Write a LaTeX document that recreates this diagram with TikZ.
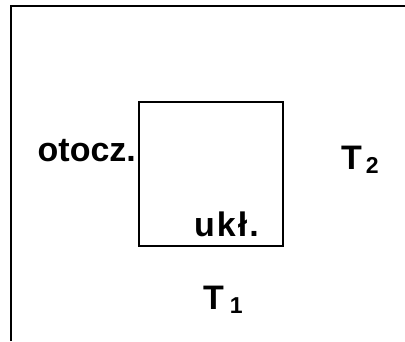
\documentclass[tikz,border=0pt]{standalone}
\usepackage{fontspec}
\setmainfont{Liberation Sans}
\begin{document}
\begin{tikzpicture}[x=1pt,y=1pt,
  lbl/.style={font=\fontsize{34}{40}\selectfont\bfseries, inner sep=0pt, anchor=base west},
  frame/.style={line width=2pt},
  sysbox/.style={draw, line width=1.3pt, minimum width=144pt, minimum height=144pt, inner sep=0pt}
]
\useasboundingbox (0,0) rectangle (405,341);
% outer frame (top and left sides visible)
\coordinate (fl) at (11,0);
\coordinate (ftl) at (11,335);
\coordinate (ftr) at (405,335);
\draw[frame, line join=miter] (fl) -- (ftl) -- (ftr);
% system box
\node[sysbox] (sys) at (211,167) {};
% labels
\node[lbl] (env) at (37.5,179.5) {otocz.};
\node[lbl] (uk) at (194,105) {u\hspace{2pt}k\hspace{2pt}ł\hspace{2pt}.};
\node[lbl] (t1) at (203,32) {T\hspace{6pt}\raisebox{-4pt}{\fontsize{23}{23}\selectfont 1}};
\node[lbl] (t2) at (341,172) {T\hspace{4pt}\raisebox{-4pt}{\fontsize{23}{23}\selectfont 2}};
\end{tikzpicture}
\end{document}
